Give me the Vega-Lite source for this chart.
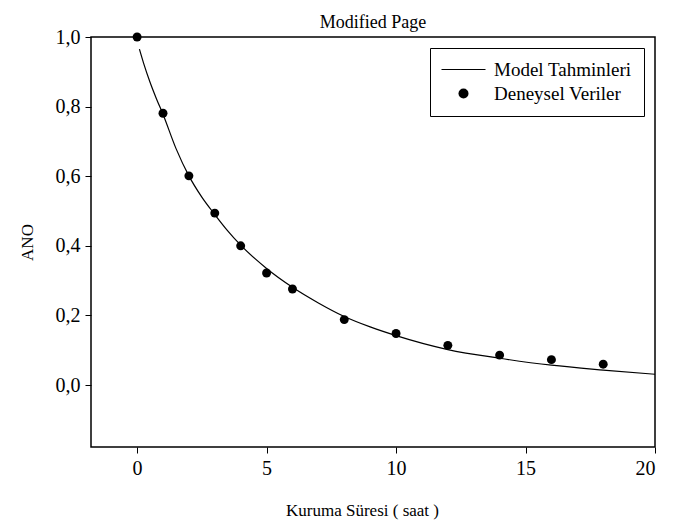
{
  "$schema": "https://vega.github.io/schema/vega-lite/v6.json",
  "width": 564,
  "height": 410,
  "autosize": {"type": "none"},
  "padding": {"left": 91, "top": 37, "right": 27, "bottom": 82},
  "background": "white",
  "title": {
    "text": "Modified Page",
    "font": "Liberation Serif",
    "fontSize": 18,
    "fontWeight": "normal",
    "color": "black",
    "anchor": "middle",
    "frame": "group",
    "baseline": "alphabetic",
    "offset": 9,
    "dy": 28
  },
  "datasets": {
    "model": [
      {"t": 0.09, "ano": 0.965},
      {"t": 0.25, "ano": 0.925},
      {"t": 0.5, "ano": 0.87},
      {"t": 0.75, "ano": 0.822},
      {"t": 1, "ano": 0.778},
      {"t": 1.5, "ano": 0.68},
      {"t": 2, "ano": 0.601},
      {"t": 2.5, "ano": 0.54},
      {"t": 3, "ano": 0.49},
      {"t": 3.5, "ano": 0.443},
      {"t": 4, "ano": 0.402},
      {"t": 5, "ano": 0.335},
      {"t": 6, "ano": 0.281},
      {"t": 7, "ano": 0.236},
      {"t": 8, "ano": 0.197},
      {"t": 9, "ano": 0.167},
      {"t": 10, "ano": 0.142},
      {"t": 12, "ano": 0.102},
      {"t": 14, "ano": 0.077},
      {"t": 16, "ano": 0.057},
      {"t": 18, "ano": 0.043},
      {"t": 20, "ano": 0.031}
    ],
    "measured": [
      {"t": 0, "ano": 1.0, "series": "Deneysel Veriler"},
      {"t": 1, "ano": 0.781, "series": "Deneysel Veriler"},
      {"t": 2, "ano": 0.601, "series": "Deneysel Veriler"},
      {"t": 3, "ano": 0.494, "series": "Deneysel Veriler"},
      {"t": 4, "ano": 0.4, "series": "Deneysel Veriler"},
      {"t": 5, "ano": 0.322, "series": "Deneysel Veriler"},
      {"t": 6, "ano": 0.276, "series": "Deneysel Veriler"},
      {"t": 8, "ano": 0.188, "series": "Deneysel Veriler"},
      {"t": 10, "ano": 0.148, "series": "Deneysel Veriler"},
      {"t": 12, "ano": 0.114, "series": "Deneysel Veriler"},
      {"t": 14, "ano": 0.086, "series": "Deneysel Veriler"},
      {"t": 16, "ano": 0.073, "series": "Deneysel Veriler"},
      {"t": 18, "ano": 0.06, "series": "Deneysel Veriler"}
    ]
  },
  "encoding": {
    "x": {
      "field": "t",
      "type": "quantitative",
      "scale": {"domain": [-1.78, 20], "nice": false, "zero": false},
      "axis": {
        "title": "Kuruma Süresi ( saat )",
        "values": [0, 5, 10, 15, 20],
        "format": "d",
        "titlePadding": 24,
        "titleX": 271
      }
    },
    "y": {
      "field": "ano",
      "type": "quantitative",
      "scale": {"domain": [-0.178, 1.0], "nice": false, "zero": false},
      "axis": {
        "title": "ANO",
        "values": [0, 0.2, 0.4, 0.6, 0.8, 1.0],
        "labelExpr": "replace(format(datum.value, '.1f'), '.', ',')",
        "titlePadding": 19
      }
    }
  },
  "layer": [
    {
      "data": {"name": "model"},
      "mark": {"type": "line", "color": "black", "strokeWidth": 1.2, "interpolate": "monotone", "clip": true}
    },
    {
      "data": {"name": "measured"},
      "mark": {"type": "point", "filled": true, "color": "black", "size": 80, "opacity": 1},
      "encoding": {
        "shape": {
          "field": "series",
          "type": "nominal",
          "scale": {
            "domain": ["Model Tahminleri", "Deneysel Veriler"],
            "range": ["M-4.4,-0.11H4.4V0.11H-4.4Z", "circle"]
          },
          "legend": {
            "title": null,
            "orient": "none",
            "legendX": 339,
            "legendY": 11,
            "strokeColor": "black",
            "fillColor": "white",
            "padding": 12,
            "symbolSize": 100,
            "symbolOffset": 12,
            "labelOffset": 21,
            "rowPadding": 4,
            "labelFont": "Liberation Serif",
            "labelFontSize": 19,
            "labelColor": "black",
            "labelLimit": 300,
            "encode": {
              "symbols": {
                "update": {
                  "fill": {"value": "black"},
                  "stroke": {"value": "black"},
                  "strokeWidth": {"value": 0.5},
                  "opacity": {"value": 1}
                }
              }
            }
          }
        }
      }
    }
  ],
  "config": {
    "view": {"stroke": "black", "strokeWidth": 1.5},
    "axis": {
      "grid": false,
      "domain": false,
      "ticks": true,
      "tickColor": "black",
      "tickSize": 6,
      "tickWidth": 1,
      "labelFont": "Liberation Serif",
      "labelFontSize": 20,
      "labelColor": "black",
      "labelPadding": 5,
      "titleFont": "Liberation Serif",
      "titleFontSize": 17,
      "titleFontWeight": "normal",
      "titleColor": "black"
    }
  }
}
